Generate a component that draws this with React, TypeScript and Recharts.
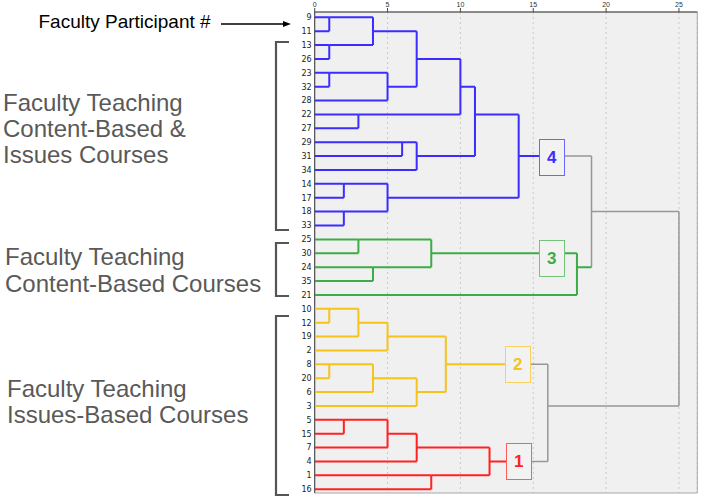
import React from 'react';
import { ScatterChart, Scatter, XAxis, YAxis, CartesianGrid, ReferenceArea } from 'recharts';

// Leaf order (top to bottom) — faculty participant numbers
const leaves = ['9', '11', '13', '26', '23', '32', '28', '22', '27', '29', '31', '34', '14', '17', '18', '33',
  '25', '30', '24', '35', '21',
  '10', '12', '19', '2', '8', '20', '6', '3',
  '5', '15', '7', '4', '1', '16'];

// Agglomeration steps: [left node, right node, rescaled distance]; merge i is referred to as 'm' + i
const merges: [string, string, number][] = [
  ['9', '11', 1], ['13', '26', 1], ['m0', 'm1', 4], ['23', '32', 1], ['m3', '28', 5], ['m2', 'm4', 7],
  ['22', '27', 3], ['m5', 'm6', 10], ['29', '31', 6], ['m8', '34', 7], ['m7', 'm9', 11],
  ['14', '17', 2], ['18', '33', 2], ['m11', 'm12', 5], ['m10', 'm13', 14],
  ['25', '30', 3], ['24', '35', 4], ['m15', 'm16', 8], ['m17', '21', 18],
  ['10', '12', 1], ['m19', '19', 3], ['m20', '2', 5], ['8', '20', 1], ['m22', '6', 4], ['m23', '3', 7], ['m21', 'm24', 9],
  ['5', '15', 2], ['m26', '7', 5], ['m27', '4', 7], ['1', '16', 8], ['m28', 'm29', 12],
  ['m14', 'm18', 19], ['m25', 'm30', 16], ['m31', 'm32', 25],
];

const clusters = [
  { id: '4', root: 'm14', color: '#3b2cff', boxStroke: '#6f66ff', labelX: 16.27, labelRow: 10.1 },
  { id: '3', root: 'm18', color: '#3dab47', boxStroke: '#74c47a', labelX: 16.27, labelRow: 17.36 },
  { id: '2', root: 'm25', color: '#f6c21c', boxStroke: '#f8d35c', labelX: 13.94, labelRow: 25.0 },
  { id: '1', root: 'm30', color: '#ff2222', boxStroke: '#ff5c5c', labelX: 14.0, labelRow: 32.0 },
];

const xTicks = [0, 5, 10, 15, 20, 25];
const X_MAX = 26.26;
const Y_MIN = -0.38;
const Y_MAX = 34.27;
const GRAY = '#979797';
const FONT = "'Liberation Sans', Arial, sans-serif";

// ---- build the tree geometry from the data ----
const rows: Record<string, number> = {};
const heights: Record<string, number> = {};
const children: Record<string, [string, string]> = {};
leaves.forEach((l, i) => { rows[l] = i; heights[l] = 0; });
merges.forEach(([a, b, h], i) => {
  const id = 'm' + i;
  rows[id] = Math.floor((rows[a] + rows[b]) / 2);
  heights[id] = h;
  children[id] = [a, b];
});
const colorOf: Record<string, string> = {};
const paint = (n: string, c: string) => {
  colorOf[n] = c;
  if (children[n]) children[n].forEach((k) => paint(k, c));
};
clusters.forEach((c) => paint(c.root, c.color));

type Seg = { pts: { x: number; y: number }[]; color: string; w: number };
const segs: Seg[] = [];
merges.forEach(([a, b, h], i) => {
  const id = 'm' + i;
  const mc = colorOf[id] ?? GRAY;
  [a, b].forEach((c) => {
    const cc = colorOf[c] ?? GRAY;
    const cl = clusters.find((k) => k.root === c);
    const r = rows[c];
    if (cl && !colorOf[id] && Math.abs(cl.labelRow - r) < 0.5 && cl.labelX > heights[c] && cl.labelX < h) {
      segs.push({ pts: [{ x: cl.labelX, y: r }, { x: h, y: r }], color: GRAY, w: 1.5 });
      segs.push({ pts: [{ x: heights[c], y: r }, { x: cl.labelX, y: r }], color: cc, w: 2 });
    } else {
      segs.push({ pts: [{ x: heights[c], y: r }, { x: h, y: r }], color: cc, w: cc === GRAY ? 1.5 : 2 });
    }
  });
  segs.push({ pts: [{ x: h, y: rows[a] }, { x: h, y: rows[b] }], color: mc, w: mc === GRAY ? 1.5 : 2 });
});
// draw gray first, colored on top
segs.sort((p, q) => (p.color === GRAY ? 0 : 1) - (q.color === GRAY ? 0 : 1));

const boxData = clusters.map((c) => ({ x: c.labelX, y: c.labelRow, id: c.id, color: c.color, boxStroke: c.boxStroke }));

const rowTicks = leaves.map((_, i) => i);

const NoDot = () => <g />;

const BoxShape = (props: any) => {
  const { cx, cy, payload } = props;
  const x0 = Math.round(cx - 12.5) + 0.5;
  const y0 = Math.round(cy - 18) + 0.5;
  return (
    <g>
      <rect x={x0} y={y0} width={25} height={36} fill="#f2f2f2" stroke={payload.boxStroke} strokeWidth={1} />
      <text x={cx} y={cy + 6} textAnchor="middle" fontSize={17} fontWeight="bold" fill={payload.color} stroke="none" fontFamily={FONT}>
        {payload.id}
      </text>
    </g>
  );
};

const groupLabels = [
  { lines: ['Faculty Teaching', 'Content-Based &', 'Issues Courses'], x: 3, y: 111, dy: 26.2 },
  { lines: ['Faculty Teaching', 'Content-Based Courses'], x: 5, y: 265, dy: 26.7 },
  { lines: ['Faculty Teaching', 'Issues-Based Courses'], x: 7, y: 396.7, dy: 26.6 },
];
const brackets = [
  { x: 276, y1: 42, y2: 230 },
  { x: 276, y1: 243, y2: 296 },
  { x: 276, y1: 316, y2: 495 },
];

export default function App() {
  return (
    <div style={{ position: 'absolute', left: 0, top: 0, width: 701, height: 500, background: '#fff' }}>
      <ScatterChart width={701} height={500} margin={{ top: 0, right: 3.7, bottom: 7, left: 284.7 }}>
        <CartesianGrid horizontal={false} strokeDasharray="2 3" stroke="#c9c9c9" fill="#f0f0f0" />
        <XAxis
          type="number"
          dataKey="x"
          orientation="top"
          domain={[0, X_MAX]}
          ticks={xTicks}
          allowDataOverflow
          height={12}
          tickSize={4}
          tickMargin={1}
          tick={{ fontSize: 7, fill: '#333', fontFamily: FONT }}
          axisLine={{ stroke: '#444' }}
          tickLine={{ stroke: '#444' }}
        />
        <YAxis
          type="number"
          dataKey="y"
          reversed
          domain={[Y_MIN, Y_MAX]}
          ticks={rowTicks}
          interval={0}
          allowDataOverflow
          tickFormatter={(v: number) => leaves[v] ?? ''}
          width={30}
          tickSize={0}
          tickMargin={3}
          tick={{ fontSize: 8, fill: '#222', fontFamily: "'DejaVu Sans', sans-serif" }}
          axisLine={{ stroke: '#444' }}
        />
        <ReferenceArea x1={0} x2={X_MAX} y1={Y_MIN} y2={Y_MAX} fill="none" stroke="#a8a8a8" strokeWidth={1} ifOverflow="visible" />
        {segs.map((s, i) => (
          <Scatter
            key={'s' + i}
            data={s.pts}
            line={{ stroke: s.color, strokeWidth: s.w }}
            lineType="joint"
            shape={NoDot}
            isAnimationActive={false}
          />
        ))}
        <Scatter data={boxData} shape={BoxShape} isAnimationActive={false} />
      </ScatterChart>
      <svg width={701} height={500} style={{ position: 'absolute', left: 0, top: 0, pointerEvents: 'none' }}>
        <text x={38.5} y={28} fontSize={19} fill="#000" fontFamily={FONT}>Faculty Participant #</text>
        <line x1={221} y1={24} x2={285} y2={24} stroke="#000" strokeWidth={1.3} />
        <polygon points="291,24 283,21 283,27" fill="#000" />
        {groupLabels.map((g, gi) => (
          <text key={gi} fontSize={24} fill="#595959" fontFamily={FONT}>
            {g.lines.map((l, li) => (
              <tspan key={li} x={g.x} y={g.y + li * g.dy}>{l}</tspan>
            ))}
          </text>
        ))}
        {brackets.map((b, i) => (
          <path key={i} d={`M ${b.x + 13} ${b.y1} H ${b.x} V ${b.y2} H ${b.x + 13}`} fill="none" stroke="#555" strokeWidth={2.2} />
        ))}
      </svg>
    </div>
  );
}
